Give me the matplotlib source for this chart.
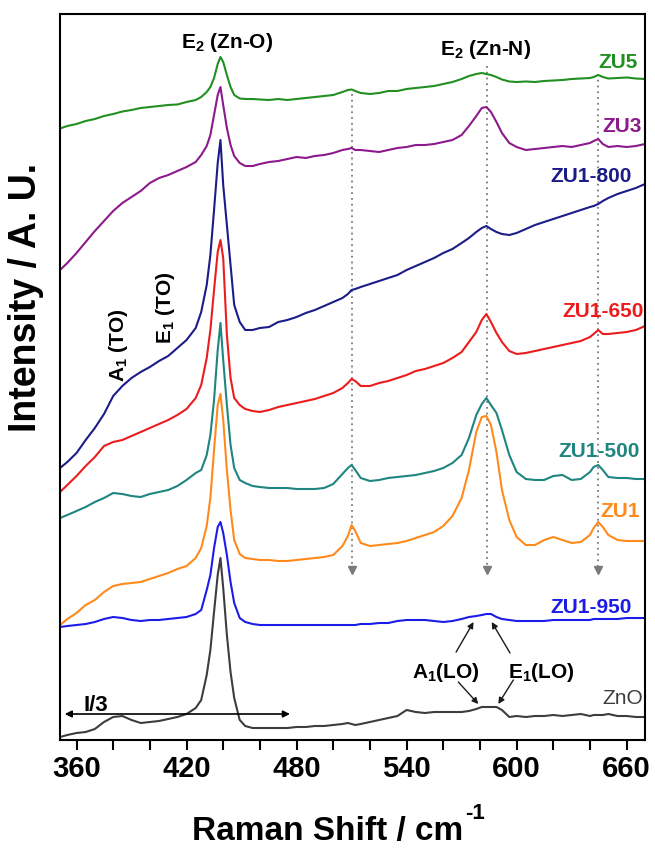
import matplotlib
matplotlib.use("Agg")
import matplotlib.pyplot as plt

plt.rcParams['font.family'] = ['Liberation Sans', 'DejaVu Sans']
plt.rcParams['mathtext.fontset'] = 'custom'
plt.rcParams['mathtext.rm'] = 'Liberation Sans:bold'
plt.rcParams['mathtext.bf'] = 'Liberation Sans:bold'
plt.rcParams['mathtext.default'] = 'bf'

# Raman shift (cm^-1) sampling grid shared by all spectra
raman_shift = [351, 355, 360, 365, 370, 375, 380, 385, 390, 395,
               400, 405, 410, 415, 420, 425, 428, 431, 433, 435,
               437, 438.5, 440, 442, 444, 446, 449, 452, 456, 460,
               465, 470, 475, 480, 485, 490, 495, 500, 505, 508,
               510, 512, 515, 520, 525, 530, 535, 540, 545, 550,
               555, 560, 565, 570, 574, 578, 581, 583.5, 586, 589,
               592, 596, 600, 605, 610, 615, 620, 625, 630, 635,
               640, 642, 644.5, 647, 650, 655, 660, 665, 670]

# Stacked intensities (a.u.)
zu5 = [611.5, 614, 616, 619, 621, 624, 626, 628.5, 630, 632,
       633, 634, 635, 635.5, 638, 640, 643, 648, 653, 662,
       676, 683, 678, 665, 653, 645, 641.5, 641, 641, 640.5,
       640, 641, 640, 641, 642, 643, 644, 645, 648, 650,
       650.5, 649, 647, 646, 647, 649, 649, 651, 652, 653,
       654, 656, 658, 661, 664, 666, 667, 666, 665, 663,
       660.5, 658.5, 658, 658.5, 658, 659, 659.5, 660, 661, 661.5,
       662, 663, 665, 663, 661.5, 662, 662.5, 661.5, 661]

zu3 = [470, 477, 487, 498, 509, 519, 529, 537, 543, 549,
       557, 562, 565, 569, 573, 578, 585, 594, 605, 625,
       645, 653, 635, 612, 595, 584, 577, 574, 574, 576,
       578, 579, 581, 583, 582, 584, 585, 587, 590, 591,
       592, 590, 590, 589, 588, 590, 592, 593, 595, 595,
       596, 598, 600, 605, 614, 624, 632, 633, 628, 618,
       607, 597, 593, 590, 591, 592, 593, 594, 593, 595,
       597, 599, 601, 596, 593, 594, 593, 594, 596]

zu1_800 = [272, 278, 287, 300, 312, 326, 344, 354, 362, 368,
           373, 379, 384, 392, 400, 412, 428, 455, 485, 530,
           577, 600, 555, 515, 475, 435, 418, 410, 410, 412,
           413, 418, 420, 423, 427, 430, 434, 438, 442, 446,
           450, 451, 453, 456, 459, 462, 465, 470, 474, 478,
           482, 487, 491, 497, 502, 508, 512, 514, 511, 508,
           506, 505, 507, 511, 515, 518, 521, 524, 527, 530,
           533, 534, 536, 539, 542, 546, 549, 552, 556]

zu1_650 = [248, 255, 264, 274, 283, 294, 298, 300, 304, 308,
           312, 316, 320, 325, 331, 342, 355, 382, 410, 450,
           488, 500, 482, 405, 362, 342, 335, 331, 329, 328,
           330, 333, 335, 337, 339, 341, 344, 347, 352, 357,
           361, 359, 354, 354, 357, 359, 362, 365, 369, 371,
           374, 377, 382, 388, 398, 408, 420, 426, 418, 407,
           398, 389, 386, 387, 389, 391, 393, 395, 397, 399,
           403, 406, 410, 406, 406, 407, 408, 410, 414]

zu1_500 = [222, 225, 229, 233, 238, 242, 247, 246, 244, 243,
           246, 248, 250, 254, 260, 267, 270, 285, 305, 340,
           390, 417, 380, 335, 295, 272, 260, 257, 254, 253,
           252, 252, 252, 251, 251, 251, 252, 256, 266, 272,
           275, 270, 262, 259, 260, 262, 263, 264, 265, 267,
           269, 272, 277, 285, 302, 325, 336, 342, 335, 327,
           310, 285, 268, 261, 260, 260, 264, 265, 260, 261,
           268, 273, 275, 270, 263, 262, 262, 261, 261]

zu1 = [115, 121, 127, 135, 140, 148, 154, 156, 157, 158,
       161, 164, 167, 171, 174, 182, 192, 214, 242, 290,
       335, 346, 320, 270, 230, 200, 186, 182, 181, 180,
       180, 179, 179, 180, 181, 182, 183, 185, 194, 204,
       215, 209, 197, 194, 195, 196, 197, 199, 202, 205,
       208, 214, 224, 242, 270, 308, 323, 324, 315, 288,
       250, 220, 203, 195, 195, 200, 203, 200, 197, 198,
       205, 212, 218, 213, 205, 200, 199, 199, 199]

zu1_950 = [113, 114, 115, 116, 118, 121, 123, 122, 120, 119,
           120, 120, 121, 122, 123, 126, 130, 150, 165, 192,
           213, 218, 207, 185, 158, 137, 122, 118, 116, 115,
           115, 115, 115, 115, 115, 115, 115, 115, 115, 115,
           115, 115, 116, 116, 117, 117, 119, 120, 120, 120,
           119, 118, 119, 121, 123, 124, 125, 126, 126, 123,
           121, 120, 119, 119, 119, 119, 120, 120, 120, 120,
           120, 121, 121, 121, 121, 121, 122, 122, 122]

zno = [3, 5, 7, 8, 11, 18, 23, 24, 20, 17,
       18, 19, 21, 23, 26, 32, 40, 65, 90, 128,
       165, 182, 152, 105, 68, 42, 20, 14, 12, 12,
       12, 12, 12, 13, 13, 14, 14, 15, 16, 17,
       16, 15, 16, 18, 20, 22, 24, 30, 28, 27,
       28, 28, 28, 28, 29, 31, 33, 33, 33, 33,
       30, 23, 24, 23, 24, 24, 25, 24, 25, 26,
       24, 25, 25, 25, 26, 24, 24, 23, 23]

sample_names = ['ZnO', 'ZU1-950', 'ZU1', 'ZU1-500', 'ZU1-650', 'ZU1-800', 'ZU3', 'ZU5']
spectra = [zno, zu1_950, zu1, zu1_500, zu1_650, zu1_800, zu3, zu5]
colors = ['#3d3d3d', '#1c1ce8', '#ff8a1c', '#1f8580', '#ec1c1c', '#1c1c88', '#8c1a8c', '#219021']

# Zn-N related modes marked with dotted guides
mode_positions = [510, 583.6, 644.5]
mode_tops = [646, 674, 666]

W, H = 655, 850
fig = plt.figure(figsize=(W / 100, H / 100), dpi=100)
ax = fig.add_axes([60 / W, 110 / H, 585 / W, 726 / H])

for pos, top in zip(mode_positions, mode_tops):
    ax.plot([pos, pos], [top, 174], ls=(0, (1, 2.2)), color='#7a7a7a', lw=1.3, zorder=1)
    ax.plot([pos], [170], marker='v', color='#7a7a7a', ms=5.5, zorder=1)

for ys, c in zip(spectra, colors):
    ax.plot(raman_shift, ys, color=c, lw=1.5, zorder=2)

ax.set_xlim(351, 670)
ax.set_ylim(0, 726)
ax.set_xticks(range(360, 661, 60))
ax.set_xticks(range(360, 661, 20), minor=True)
ax.set_yticks([])
ax.tick_params(axis='x', which='both', direction='out', length=7, width=1.5)
ax.tick_params(axis='x', which='major', labelsize=21, pad=3.5)
for lbl in ax.get_xticklabels():
    lbl.set_fontweight('bold')
for sp in ax.spines.values():
    sp.set_linewidth(1.5)

ax.set_xlabel('Raman Shift / cm', fontsize=24, fontweight='bold')
ax.xaxis.label.set_verticalalignment('baseline')
ax.xaxis.set_label_coords(0.457, -0.1378)
ax.set_ylabel('Intensity / A. U.', fontsize=27, fontweight='bold')
ax.yaxis.set_label_coords(-0.028, 0.61)

# sample labels
label_spots = [(669.1, 36), (662.7, 127), (667.3, 223), (667.3, 283),
               (669.1, 423), (662.7, 558), (668.2, 608), (666.3, 672)]
for name, c, (lx, ly) in zip(sample_names, colors, label_spots):
    ax.text(lx, ly, name, color=c, fontsize=15,
            fontweight='normal' if name == 'ZnO' else 'bold',
            ha='right', va='baseline')

# phonon mode annotations
ax.text(417.2, 692, 'E$_2$ (Zn-O)', fontsize=15, fontweight='bold', ha='left', va='baseline')
ax.text(558.2, 685, 'E$_2$ (Zn-N)', fontsize=15, fontweight='bold', ha='left', va='baseline')
ax.text(383.1, 395, 'A$_1$ (TO)', fontsize=15, fontweight='bold', rotation=90, ha='center', va='center')
ax.text(408.7, 432, 'E$_1$ (TO)', fontsize=15, fontweight='bold', rotation=90, ha='center', va='center')
ax.text(542.7, 62, 'A$_1$(LO)', fontsize=15, fontweight='bold', ha='left', va='baseline')
ax.text(595.4, 62, 'E$_1$(LO)', fontsize=15, fontweight='bold', ha='left', va='baseline')

arrow_kw = dict(arrowstyle='-|>', color='#1a1a1a', lw=1.0, mutation_scale=9,
                shrinkA=0, shrinkB=0)
ax.annotate('', xy=(576.5, 118), xytext=(567.0, 88), arrowprops=arrow_kw)
ax.annotate('', xy=(586.4, 118), xytext=(596.4, 87), arrowprops=arrow_kw)
ax.annotate('', xy=(579.1, 36), xytext=(568.2, 58), arrowprops=arrow_kw)
ax.annotate('', xy=(590.0, 36), xytext=(598.2, 60), arrowprops=arrow_kw)

# ZnO trace is scaled down by three
ax.annotate('', xy=(476.4, 26), xytext=(353.6, 26),
            arrowprops=dict(arrowstyle='<|-|>', color='black', lw=1.2,
                            mutation_scale=10, shrinkA=0, shrinkB=0))
ax.text(363.6, 29, 'I/3', fontsize=16, fontweight='bold', ha='left', va='baseline')

# superscript "-1" of the unit, set after the x label
fig.canvas.draw()
bb = ax.xaxis.label.get_window_extent()
fig.text((bb.x1 + 2) / W, 31 / H, '-1', fontsize=16, fontweight='bold',
         ha='left', va='baseline')

fig.savefig('out.png', dpi=100, facecolor='white')
